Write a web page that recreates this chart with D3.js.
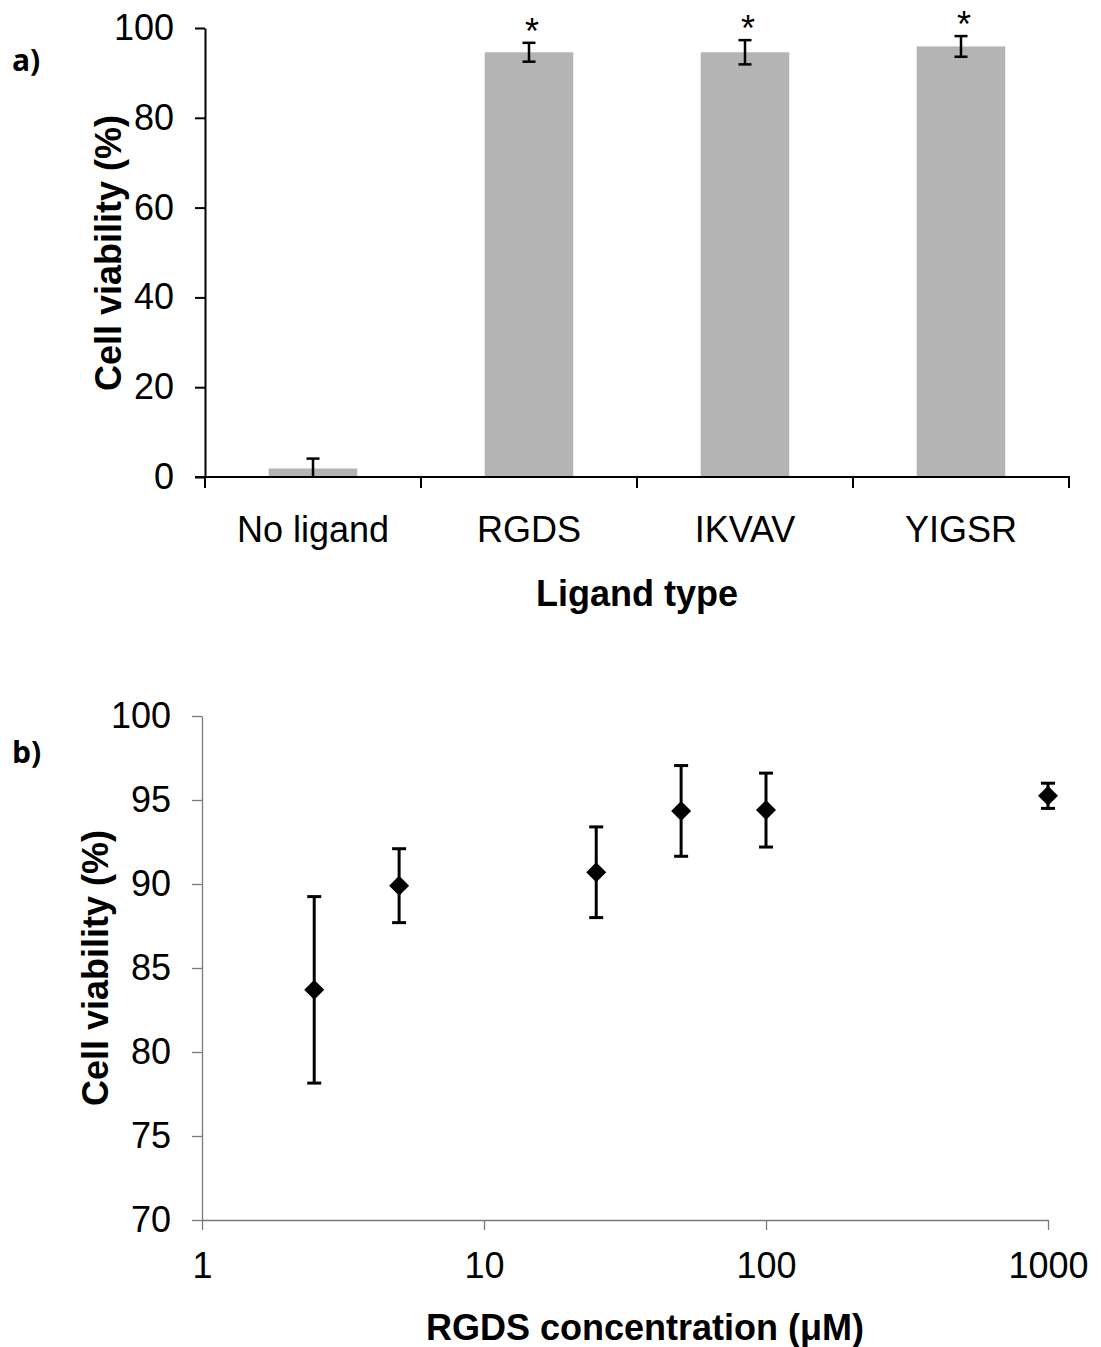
<!DOCTYPE html>
<html>
<head>
<meta charset="utf-8">
<script src="https://cdn.jsdelivr.net/npm/d3@7"></script>
<style>
  body { margin: 0; background: #fff; }
  text { font-family: "Liberation Sans", Arial, sans-serif; }
</style>
</head>
<body>
<div id="chart"></div>
<script>
// panel a data
var ligands = ["No ligand", "RGDS", "IKVAV", "YIGSR"];
var viability = [1.9, 94.6, 94.6, 95.9];
var viabilityErr = [2.2, 2.1, 2.7, 2.3];
var significant = [false, true, true, true];
var yTicksA = [0, 20, 40, 60, 80, 100];

// panel b data
var conc = [2.5, 5, 25, 50, 100, 1000];
var concViability = [83.7, 89.9, 90.7, 94.35, 94.4, 95.25];
var concErr = [5.55, 2.2, 2.7, 2.7, 2.2, 0.75];
var yTicksB = [70, 75, 80, 85, 90, 95, 100];
var xTicksB = [1, 10, 100, 1000];

var width = 1101, height = 1347;
var tickFont = 36, titleFont = 36;

var svg = d3.select("#chart").append("svg")
    .attr("width", width)
    .attr("height", height);

// ---------- panel a ----------
var xA = d3.scaleBand()
    .domain(ligands)
    .range([205, 1069])
    .paddingInner(0.59)
    .paddingOuter(0.295);
var yA = d3.scaleLinear()
    .domain([0, 100])
    .range([477, 28]);

var gA = svg.append("g");

gA.selectAll(".bar")
    .data(ligands)
    .enter()
    .append("rect")
    .attr("class", "bar")
    .attr("x", d => xA(d))
    .attr("y", (d, i) => yA(viability[i]))
    .attr("width", xA.bandwidth())
    .attr("height", (d, i) => yA(0) - yA(viability[i]))
    .attr("fill", "#b4b4b4");

var capA = 6.5;
ligands.forEach(function (d, i) {
    var cx = xA(d) + xA.bandwidth() / 2;
    var top = yA(viability[i] + viabilityErr[i]);
    var bot = yA(Math.max(0, viability[i] - viabilityErr[i]));
    gA.append("line")
        .attr("x1", cx).attr("x2", cx)
        .attr("y1", top).attr("y2", bot)
        .attr("stroke", "#000").attr("stroke-width", 2.5);
    gA.append("line")
        .attr("x1", cx - capA).attr("x2", cx + capA)
        .attr("y1", top).attr("y2", top)
        .attr("stroke", "#000").attr("stroke-width", 2.5);
    if (viability[i] - viabilityErr[i] > 0) {
        gA.append("line")
            .attr("x1", cx - capA).attr("x2", cx + capA)
            .attr("y1", bot).attr("y2", bot)
            .attr("stroke", "#000").attr("stroke-width", 2.5);
    }
    if (significant[i]) {
        gA.append("text")
            .attr("x", cx + 3)
            .attr("y", top + 1)
            .attr("text-anchor", "middle")
            .attr("font-size", 36)
            .text("*");
    }
});

// y axis
var yAxisA = gA.append("g")
    .attr("transform", "translate(205,0)")
    .call(d3.axisLeft(yA).tickValues(yTicksA).tickSize(10).tickPadding(21).tickSizeOuter(0));
yAxisA.selectAll("path, line").attr("stroke", "#000").attr("stroke-width", 2);
yAxisA.selectAll("text").attr("font-size", tickFont).attr("fill", "#000")
    .style("font-family", "Liberation Sans, Arial, sans-serif");

// x axis line + category separators
gA.append("line")
    .attr("x1", 195).attr("x2", 1070)
    .attr("y1", yA(0)).attr("y2", yA(0))
    .attr("stroke", "#000").attr("stroke-width", 2);
var stepA = xA.step();
var seps = ligands.map(d => xA(d) - (stepA - xA.bandwidth()) / 2);
seps.push(seps[seps.length - 1] + stepA);
gA.selectAll(".sep")
    .data(seps)
    .enter()
    .append("line")
    .attr("x1", d => d).attr("x2", d => d)
    .attr("y1", yA(0)).attr("y2", yA(0) + 11)
    .attr("stroke", "#000").attr("stroke-width", 2);

gA.selectAll(".xlab")
    .data(ligands)
    .enter()
    .append("text")
    .attr("x", d => xA(d) + xA.bandwidth() / 2)
    .attr("y", yA(0) + 65)
    .attr("text-anchor", "middle")
    .attr("font-size", tickFont)
    .text(d => d);

gA.append("text")
    .attr("x", 637)
    .attr("y", 606)
    .attr("text-anchor", "middle")
    .attr("font-size", 36)
    .attr("font-weight", "bold")
    .text("Ligand type");

gA.append("text")
    .attr("transform", "translate(121,253) rotate(-90)")
    .attr("text-anchor", "middle")
    .attr("font-size", titleFont)
    .attr("font-weight", "bold")
    .text("Cell viability (%)");

gA.append("text")
    .attr("x", 12)
    .attr("y", 71)
    .attr("font-size", 30)
    .attr("font-weight", "bold")
    .style("font-family", "Open Sans, sans-serif")
    .text("a)");

// ---------- panel b ----------
var xB = d3.scaleLog()
    .domain([1, 1000])
    .range([202, 1048]);
var yB = d3.scaleLinear()
    .domain([70, 100])
    .range([1220, 716]);

var gB = svg.append("g");

var yAxisB = gB.append("g")
    .attr("transform", "translate(202,0)")
    .call(d3.axisLeft(yB).tickValues(yTicksB).tickSize(10).tickPadding(21).tickSizeOuter(0));
var xAxisB = gB.append("g")
    .attr("transform", "translate(0,1220)")
    .call(d3.axisBottom(xB).tickValues(xTicksB).tickFormat(d3.format("d")).tickSize(10).tickPadding(22).tickSizeOuter(0));
gB.selectAll(".domain, .tick line").attr("stroke", "#7a7a7a").attr("stroke-width", 1.3);
gB.selectAll(".tick text").attr("font-size", tickFont).attr("fill", "#000")
    .style("font-family", "Liberation Sans, Arial, sans-serif");

var capB = 7;
conc.forEach(function (c, i) {
    var cx = xB(c);
    var top = yB(concViability[i] + concErr[i]);
    var bot = yB(concViability[i] - concErr[i]);
    gB.append("line")
        .attr("x1", cx).attr("x2", cx)
        .attr("y1", top).attr("y2", bot)
        .attr("stroke", "#000").attr("stroke-width", 3);
    [top, bot].forEach(function (yy) {
        gB.append("line")
            .attr("x1", cx - capB).attr("x2", cx + capB)
            .attr("y1", yy).attr("y2", yy)
            .attr("stroke", "#000").attr("stroke-width", 3);
    });
});

gB.selectAll(".pt")
    .data(conc)
    .enter()
    .append("path")
    .attr("class", "pt")
    .attr("transform", (d, i) => "translate(" + xB(d) + "," + yB(concViability[i]) + ")")
    .attr("d", "M0,-10L10,0L0,10L-10,0Z")
    .attr("fill", "#000");

gB.append("text")
    .attr("x", 645)
    .attr("y", 1340)
    .attr("text-anchor", "middle")
    .attr("font-size", 36)
    .attr("font-weight", "bold")
    .text("RGDS concentration (\u03bcM)");

gB.append("text")
    .attr("transform", "translate(108,968) rotate(-90)")
    .attr("text-anchor", "middle")
    .attr("font-size", titleFont)
    .attr("font-weight", "bold")
    .text("Cell viability (%)");

gB.append("text")
    .attr("x", 12)
    .attr("y", 763)
    .attr("font-size", 30)
    .attr("font-weight", "bold")
    .style("font-family", "Open Sans, sans-serif")
    .text("b)");
</script>
</body>
</html>
